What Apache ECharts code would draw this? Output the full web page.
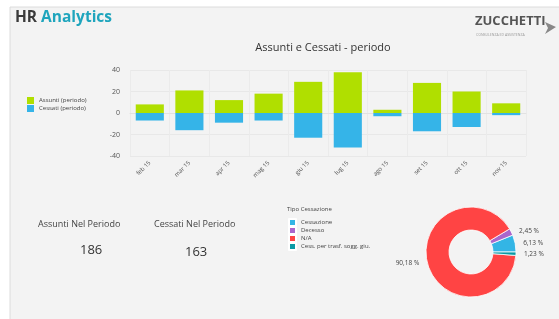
<!DOCTYPE html>
<html><head><meta charset="utf-8">
<script src="https://cdn.jsdelivr.net/npm/echarts@6/dist/echarts.min.js"></script>
<style>html,body{margin:0;padding:0;background:#fff}#c{width:559px;height:319px}</style>
</head><body><div id="c"></div>
<script>
const categories = ['feb 15','mar 15','apr 15','mag 15','giu 15','lug 15','ago 15','set 15','ott 15','nov 15'];
const assunti = [8, 21, 12, 18, 29, 38, 3, 28, 20, 9];
const cessati = [-7, -16, -9, -7, -23, -32, -3, -17, -13, -2];
const seriesNames = ['Assunti (periodo)', 'Cessati (periodo)'];
const pieNames = ['Cessazione', 'Decesso', 'N/A', 'Cess. per trasf. sogg. giu.'];
const pieValues = [10, 4, 147, 2];
const kpiLabels = ['Assunti Nel Periodo', 'Cessati Nel Periodo'];
const kpiValues = ['186', '163'];

const FONT = '"Open Sans", "DejaVu Sans", sans-serif';
const chart = echarts.init(document.getElementById('c'));
const pieTotal = pieValues.reduce((a, b) => a + b, 0);

chart.setOption({
  animation: false,
  backgroundColor: '#ffffff',
  textStyle: { fontFamily: FONT },
  title: {
    text: 'Assunti e Cessati - periodo',
    left: 318, top: 37, textAlign: 'center',
    textStyle: { fontSize: 11, fontWeight: 'normal', color: '#333', fontFamily: FONT }
  },
  graphic: [
    { type: 'rect', z: -10, shape: { x: 10, y: 7, width: 560, height: 320 },
      style: { fill: '#f3f3f3', stroke: '#dcdcdc', lineWidth: 1 } },
    { type: 'text', left: 15, top: 10,
      style: { rich: { a: { fill: '#3a3a3a', fontSize: 15.5, fontWeight: 'bold', fontFamily: FONT },
                       b: { fill: '#1fa5bd', fontSize: 15.5, fontWeight: 'bold', fontFamily: FONT } },
               text: '{a|HR }{b|Analytics}' } },
    { type: 'text', left: 475, top: 15,
      style: { text: 'ZUCCHETTI', fill: '#555', fontSize: 13, fontWeight: 'bold', fontFamily: FONT } },
    { type: 'polygon', shape: { points: [[545, 22], [556, 27], [545, 34], [548, 28]] },
      style: { fill: '#888' } },
    { type: 'text', left: 476, top: 33,
      style: { text: 'CONSULENZA ED ASSISTENZA', fill: '#999', fontSize: 3.5, fontFamily: FONT } },
    { type: 'text', left: 38, top: 220, style: { text: kpiLabels[0], fill: '#444', fontSize: 9, fontFamily: FONT } },
    { type: 'text', left: 80, top: 244, style: { text: kpiValues[0], fill: '#333', fontSize: 13, fontFamily: FONT } },
    { type: 'text', left: 154, top: 220, style: { text: kpiLabels[1], fill: '#444', fontSize: 9, fontFamily: FONT } },
    { type: 'text', left: 185, top: 246, style: { text: kpiValues[1], fill: '#333', fontSize: 13, fontFamily: FONT } },
    { type: 'text', left: 287, top: 206, style: { text: 'Tipo Cessazione', fill: '#444', fontSize: 6, fontFamily: FONT } }
  ],
  legend: [
    { data: seriesNames, orient: 'vertical', left: 22, top: 92, itemWidth: 7, itemHeight: 7, itemGap: 1,
      icon: 'rect', textStyle: { fontSize: 6, lineHeight: 7, color: '#444', fontFamily: FONT } },
    { data: pieNames, orient: 'vertical', left: 283, top: 213, itemWidth: 7, itemHeight: 7, itemGap: -1,
      icon: 'rect', textStyle: { fontSize: 6, lineHeight: 7, height: 7, color: '#444', fontFamily: FONT } }
  ],
  grid: { left: 130, right: 33, top: 70, bottom: 163 },
  xAxis: {
    type: 'category', data: categories,
    axisLine: { show: true, lineStyle: { color: '#e2e2e2' } },
    axisTick: { show: false },
    splitLine: { show: true, lineStyle: { color: '#ebebeb' } },
    axisLabel: { rotate: 45, fontSize: 6, color: '#555', margin: 6, interval: 0 }
  },
  yAxis: {
    type: 'value', min: -40, max: 40, interval: 20,
    axisLine: { show: false }, axisTick: { show: false },
    splitLine: { show: true, lineStyle: { color: '#e8e8e8' } },
    axisLabel: { fontSize: 7, color: '#555', margin: 10 }
  },
  series: [
    { name: seriesNames[0], type: 'bar', stack: 'tot', data: assunti, barCategoryGap: '29%',
      itemStyle: { color: '#b0df00' } },
    { name: seriesNames[1], type: 'bar', stack: 'tot', data: cessati, barCategoryGap: '29%',
      itemStyle: { color: '#35b4e8' } },
    { name: 'Tipo Cessazione', type: 'pie', center: [471, 252], radius: [22, 45],
      clockwise: false, startAngle: 0,
      avoidLabelOverlap: true,
      itemStyle: { borderColor: '#ffffff', borderWidth: 0.8 },
      label: { fontSize: 6.5, color: '#444', fontFamily: FONT,
               formatter: p => (p.value / pieTotal * 100).toFixed(2).replace('.', ',') + ' %' },
      labelLine: { show: false, length: 2, length2: 1 },
      data: pieNames.map((n, i) => ({ name: n, value: pieValues[i],
        itemStyle: { color: ['#33b5e5', '#aa66cc', '#ff4444', '#0a9aa5'][i] } })) }
  ]
});
</script></body></html>
